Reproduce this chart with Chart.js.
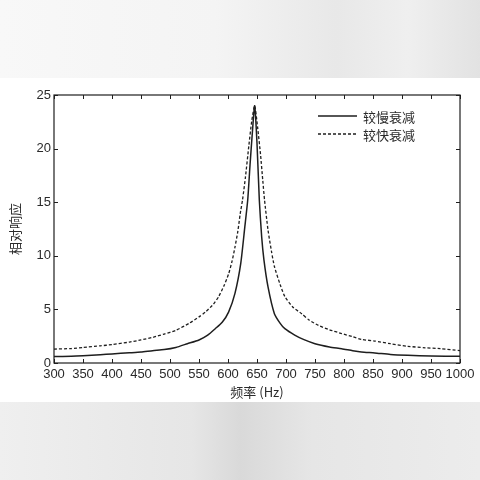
<!DOCTYPE html>
<html>
<head>
<meta charset="utf-8">
<script src="https://cdn.jsdelivr.net/npm/chart.js@4.4.1/dist/chart.umd.min.js"></script>
<style>
  html, body { margin:0; padding:0; width:480px; height:480px; overflow:hidden; }
  body { position:relative; background:#e9e9e9; }
  #topband { position:absolute; left:0; top:0; width:480px; height:78px;
    background:linear-gradient(to right, #f8f8f8 0%, #f4f4f4 45%, #e8e8e8 70%, #efefef 85%, #e2e2e2 100%); }
  #paper { position:absolute; left:0; top:78px; width:480px; height:324px; background:#ffffff; }
  #botband { position:absolute; left:0; top:402px; width:480px; height:78px;
    background:linear-gradient(to right, #efefef 0%, #e6e6e6 40%, #d9d9d9 50%, #e6e6e6 65%, #ececec 100%); }
  #wrap { position:absolute; left:0; top:0; width:480px; height:480px; }
</style>
</head>
<body>
<div id="topband"></div>
<div id="paper"></div>
<div id="botband"></div>
<div id="wrap"><canvas id="c" width="480" height="480"></canvas></div>
<script>
// ---- data ----
const seriesLabels = ['较慢衰减', '较快衰减'];
const slowFreq = [300,330,350,380,400,430,450,470,490,510,530,550,565,578,590,601,612,622,629,634,638,642,646,650,654,658,662,669,680,690,698,715,730,750,775,796,815,830,853,880,910,950,1000];
const slowResp = [0.6,0.63,0.68,0.78,0.85,0.95,1.02,1.15,1.25,1.45,1.8,2.15,2.6,3.2,3.8,4.75,6.5,9.3,12.7,15.2,18.5,21.5,24.0,20.5,15.2,11.8,9.6,7.1,4.6,3.7,3.2,2.6,2.2,1.8,1.5,1.34,1.15,1.03,0.94,0.8,0.72,0.65,0.62];
const fastFreq = [300,330,350,380,400,430,450,471,490,510,533,550,561,575,584,593,601,607,612,617,621,625,630,636,641,646,651,656,660,663,669,675,680,690,698,712,727,740,756,775,796,815,830,853,880,910,940,966,1000];
const fastResp = [1.3,1.35,1.45,1.6,1.72,1.95,2.15,2.4,2.7,3.05,3.7,4.3,4.75,5.5,6.2,7.2,8.3,9.5,10.8,12.3,13.9,15.2,17.3,20.3,22.6,24.0,22.0,19.5,17.0,15.2,12.4,10.4,9.0,7.3,6.2,5.2,4.6,4.0,3.5,3.1,2.75,2.45,2.2,2.05,1.8,1.56,1.42,1.34,1.15];
const xMin = 300, xMax = 1000, xStep = 50;
const yMin = 0, yMax = 25, yStep = 5;
const xTitle = '频率 (Hz)';
const yTitle = '相对响应';

const toPoints = (xs, ys) => xs.map((x, i) => ({ x: x, y: ys[i] }));

const INK = '#1e1e1e';
const TXT = '#2a2a2a';
const FONT = "'Liberation Sans', Arial, 'Noto Sans CJK SC', sans-serif";
const CJK = "'Noto Sans CJK SC', 'Liberation Sans', sans-serif";

const framePlugin = {
  id: 'frameAndTicks',
  afterDraw(chart) {
    const ctx = chart.ctx;
    const a = chart.chartArea;
    const xs = chart.scales.x, ys = chart.scales.y;
    ctx.save();
    ctx.strokeStyle = INK;
    ctx.lineWidth = 1.2;
    ctx.setLineDash([]);
    ctx.strokeRect(a.left, a.top, a.right - a.left, a.bottom - a.top);
    const tl = 4;
    ctx.lineWidth = 1;
    ctx.beginPath();
    xs.ticks.forEach(t => {
      const px = Math.round(xs.getPixelForValue(t.value)) + 0.5;
      ctx.moveTo(px, a.bottom); ctx.lineTo(px, a.bottom - tl);
      ctx.moveTo(px, a.top); ctx.lineTo(px, a.top + tl);
    });
    ys.ticks.forEach(t => {
      const py = Math.round(ys.getPixelForValue(t.value)) + 0.5;
      ctx.moveTo(a.left, py); ctx.lineTo(a.left + tl, py);
      ctx.moveTo(a.right, py); ctx.lineTo(a.right - tl, py);
    });
    ctx.stroke();
    // legend inside plot, top right
    const items = chart.data.datasets;
    const lx0 = 318, lx1 = 357, tx = 363;
    const rows = [116, 134];
    ctx.font = "13px " + CJK;
    ctx.textBaseline = 'middle';
    ctx.textAlign = 'left';
    items.forEach((ds, i) => {
      ctx.beginPath();
      ctx.strokeStyle = ds.borderColor;
      ctx.lineWidth = ds.borderWidth;
      ctx.setLineDash(ds.borderDash || []);
      ctx.moveTo(lx0, rows[i]); ctx.lineTo(lx1, rows[i]);
      ctx.stroke();
      ctx.setLineDash([]);
      ctx.fillStyle = TXT;
      ctx.fillText(ds.label, tx, rows[i] + 1);
    });
    ctx.restore();
  }
};

new Chart(document.getElementById('c'), {
  type: 'scatter',
  data: {
    datasets: [
      { label: seriesLabels[0], data: toPoints(slowFreq, slowResp), showLine: true,
        borderColor: INK, borderWidth: 1.5, pointRadius: 0, tension: 0.2, fill: false },
      { label: seriesLabels[1], data: toPoints(fastFreq, fastResp), showLine: true,
        borderColor: INK, borderWidth: 1.3, borderDash: [3, 2], pointRadius: 0, tension: 0.2, fill: false }
    ]
  },
  options: {
    responsive: false,
    animation: false,
    devicePixelRatio: 1,
    layout: { padding: { left: 0, top: 95, right: 20, bottom: 72 } },
    plugins: { legend: { display: false }, tooltip: { enabled: false } },
    scales: {
      x: {
        type: 'linear', min: xMin, max: xMax,
        grid: { display: false, drawTicks: false },
        border: { display: false },
        ticks: { stepSize: xStep, color: TXT, padding: 4, maxRotation: 0, autoSkip: false,
                 font: { size: 13, family: FONT }, callback: v => String(v) },
        title: { display: true, text: xTitle, color: TXT, font: { size: 13, family: CJK },
                 padding: { top: 0, bottom: 8 } },
        afterFit(s) { s.height = 45; }
      },
      y: {
        type: 'linear', min: yMin, max: yMax,
        grid: { display: false, drawTicks: false },
        border: { display: false },
        ticks: { stepSize: yStep, color: TXT, padding: 3, font: { size: 13, family: FONT },
                 callback: v => String(v) },
        title: { display: true, text: yTitle, color: TXT, font: { size: 13, family: CJK },
                 padding: { top: 7, bottom: 0 } },
        afterFit(s) { s.width = 54; }
      }
    }
  },
  plugins: [framePlugin]
});
</script>
</body>
</html>
